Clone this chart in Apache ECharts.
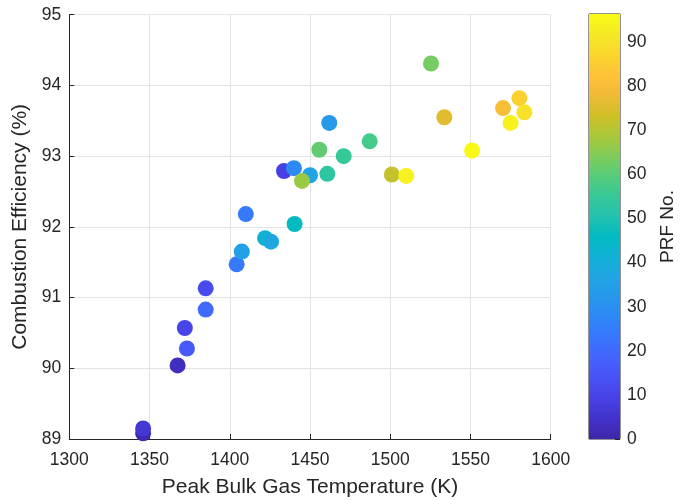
<!DOCTYPE html>
<html><head><meta charset="utf-8">
<script src="https://cdn.jsdelivr.net/npm/echarts@6/dist/echarts.min.js"></script>
<style>html,body{margin:0;padding:0;background:#fff}#c{width:686px;height:500px}</style>
</head><body><div id="c"></div>
<script>
// Data
const temperature = [1346, 1346, 1367.5, 1373.3, 1372, 1385, 1385, 1404.3, 1407.5, 1410, 1422, 1425.7, 1440.4, 1433.8, 1440, 1450, 1445, 1455.8, 1460.8, 1462, 1471, 1487.2, 1501, 1510, 1525.4, 1533.7, 1551, 1570.3, 1575, 1580.5, 1583.6];
const efficiency  = [89.08, 89.15, 90.04, 90.28, 90.57, 90.83, 91.13, 91.47, 91.65, 92.18, 91.84, 91.79, 92.04, 92.79, 92.83, 92.73, 92.65, 93.09, 92.75, 93.47, 93.0, 93.21, 92.74, 92.72, 94.31, 93.55, 93.08, 93.68, 93.47, 93.82, 93.62];
const prfNo       = [1, 6, 3, 16, 10, 20, 12, 24, 35, 24, 42, 38, 46, 9, 28, 36, 67, 61, 53, 33, 55, 57, 72, 94, 63, 76, 96, 80, 94, 86, 90];
const xTicks = [1300, 1350, 1400, 1450, 1500, 1550, 1600];
const yTicks = [89, 90, 91, 92, 93, 94, 95];
const cbTicks = [0, 10, 20, 30, 40, 50, 60, 70, 80, 90];
const cbMax = 96.4;
// parula colormap (rows of the 64-entry table)
const parulaRows = [
  [0.2422,0.1504,0.6603],[0.2647,0.1978,0.7952],[0.2783,0.2559,0.8991],[0.2810,0.3228,0.9579],
  [0.2699,0.3892,0.9906],[0.2206,0.4603,0.9973],[0.1786,0.5289,0.9682],[0.1540,0.5902,0.9218],
  [0.1248,0.6459,0.8883],[0.0689,0.6948,0.8394],[0.0067,0.7312,0.7660],[0.1408,0.7584,0.6842],
  [0.2161,0.7843,0.5923],[0.3406,0.8008,0.4789],[0.5044,0.7993,0.3480],[0.6720,0.7793,0.2227],
  [0.8203,0.7498,0.1535],[0.9393,0.7288,0.2100],[0.9970,0.7659,0.2199],[0.9786,0.8386,0.1766],
  [0.9597,0.9135,0.1423],[0.9769,0.9839,0.0805]
];
const rowIdx = [1,4,7,10,13,16,19,22,25,28,31,34,37,40,43,46,49,52,55,58,61,64];
const toHex = c => '#' + c.map(v => Math.round(v * 255).toString(16).padStart(2, '0')).join('');
const parula = parulaRows.map(toHex);
const parulaStops = parula.map((c, i) => ({offset: (rowIdx[i] - 1) / 63, color: c}));

const points = temperature.map((t, i) => [t, efficiency[i], prfNo[i]]);
const txt = '#262626';
const font = 'Liberation Sans';
const chart = echarts.init(document.getElementById('c'), null, {renderer: 'canvas'});
chart.setOption({
  backgroundColor: '#fff',
  textStyle: {fontFamily: font, color: txt},
  grid: [
    {left: 69.3, right: 135.3, top: 14.7, bottom: 61, containLabel: false, outerBoundsMode: 'none'},
    {left: 589, width: 31, top: 14, bottom: 61, show: true, borderColor: txt, borderWidth: 1,
     backgroundColor: 'transparent', outerBoundsMode: 'none'}
  ],
  xAxis: [
    {type: 'value', gridIndex: 0, min: xTicks[0], max: xTicks[xTicks.length - 1], interval: 50,
     name: 'Peak Bulk Gas Temperature (K)', nameLocation: 'middle', nameGap: 38,
     nameTextStyle: {fontSize: 21, color: txt, fontFamily: font},
     axisLine: {show: true, lineStyle: {color: txt, width: 1}},
     axisTick: {show: true, inside: true, length: 5, lineStyle: {color: txt}},
     axisLabel: {fontSize: 17.5, color: txt, fontFamily: font, margin: 12, formatter: v => String(v)},
     splitLine: {show: true, lineStyle: {color: '#e3e3e3', width: 1}}},
    {type: 'category', gridIndex: 1, data: ['c'], show: false}
  ],
  yAxis: [
    {type: 'value', gridIndex: 0, min: yTicks[0], max: yTicks[yTicks.length - 1], interval: 1,
     name: 'Combustion Efficiency (%)', nameLocation: 'middle', nameGap: 31, nameRotate: 90,
     nameTextStyle: {fontSize: 21, color: txt, fontFamily: font},
     axisLine: {show: true, lineStyle: {color: txt, width: 1}},
     axisTick: {show: true, inside: true, length: 5, lineStyle: {color: txt}},
     axisLabel: {fontSize: 17.5, color: txt, fontFamily: font, margin: 8, formatter: v => String(v)},
     splitLine: {show: true, lineStyle: {color: '#e3e3e3', width: 1}}},
    {type: 'value', gridIndex: 1, min: 0, max: cbMax, interval: 10, position: 'right',
     name: 'PRF No.', nameLocation: 'middle', nameGap: 38, nameRotate: 90,
     nameTextStyle: {fontSize: 19, color: txt, fontFamily: font},
     axisLine: {show: false},
     axisTick: {show: true, inside: true, length: 5, lineStyle: {color: txt}},
     axisLabel: {fontSize: 17.5, color: txt, fontFamily: font, margin: 7,
       formatter: v => (cbTicks.indexOf(v) >= 0 ? String(v) : '')},
     splitLine: {show: false}}
  ],
  visualMap: {type: 'continuous', show: false, seriesIndex: 0, dimension: 2, min: 0, max: cbMax,
    inRange: {color: parula}},
  series: [
    {type: 'scatter', xAxisIndex: 0, yAxisIndex: 0, data: points, symbolSize: 16,
     itemStyle: {opacity: 1}, animation: false},
    {type: 'bar', xAxisIndex: 1, yAxisIndex: 1, data: [cbMax], barWidth: '100%', animation: false,
     itemStyle: {color: new echarts.graphic.LinearGradient(0, 1, 0, 0, parulaStops)}}
  ]
});
</script></body></html>
